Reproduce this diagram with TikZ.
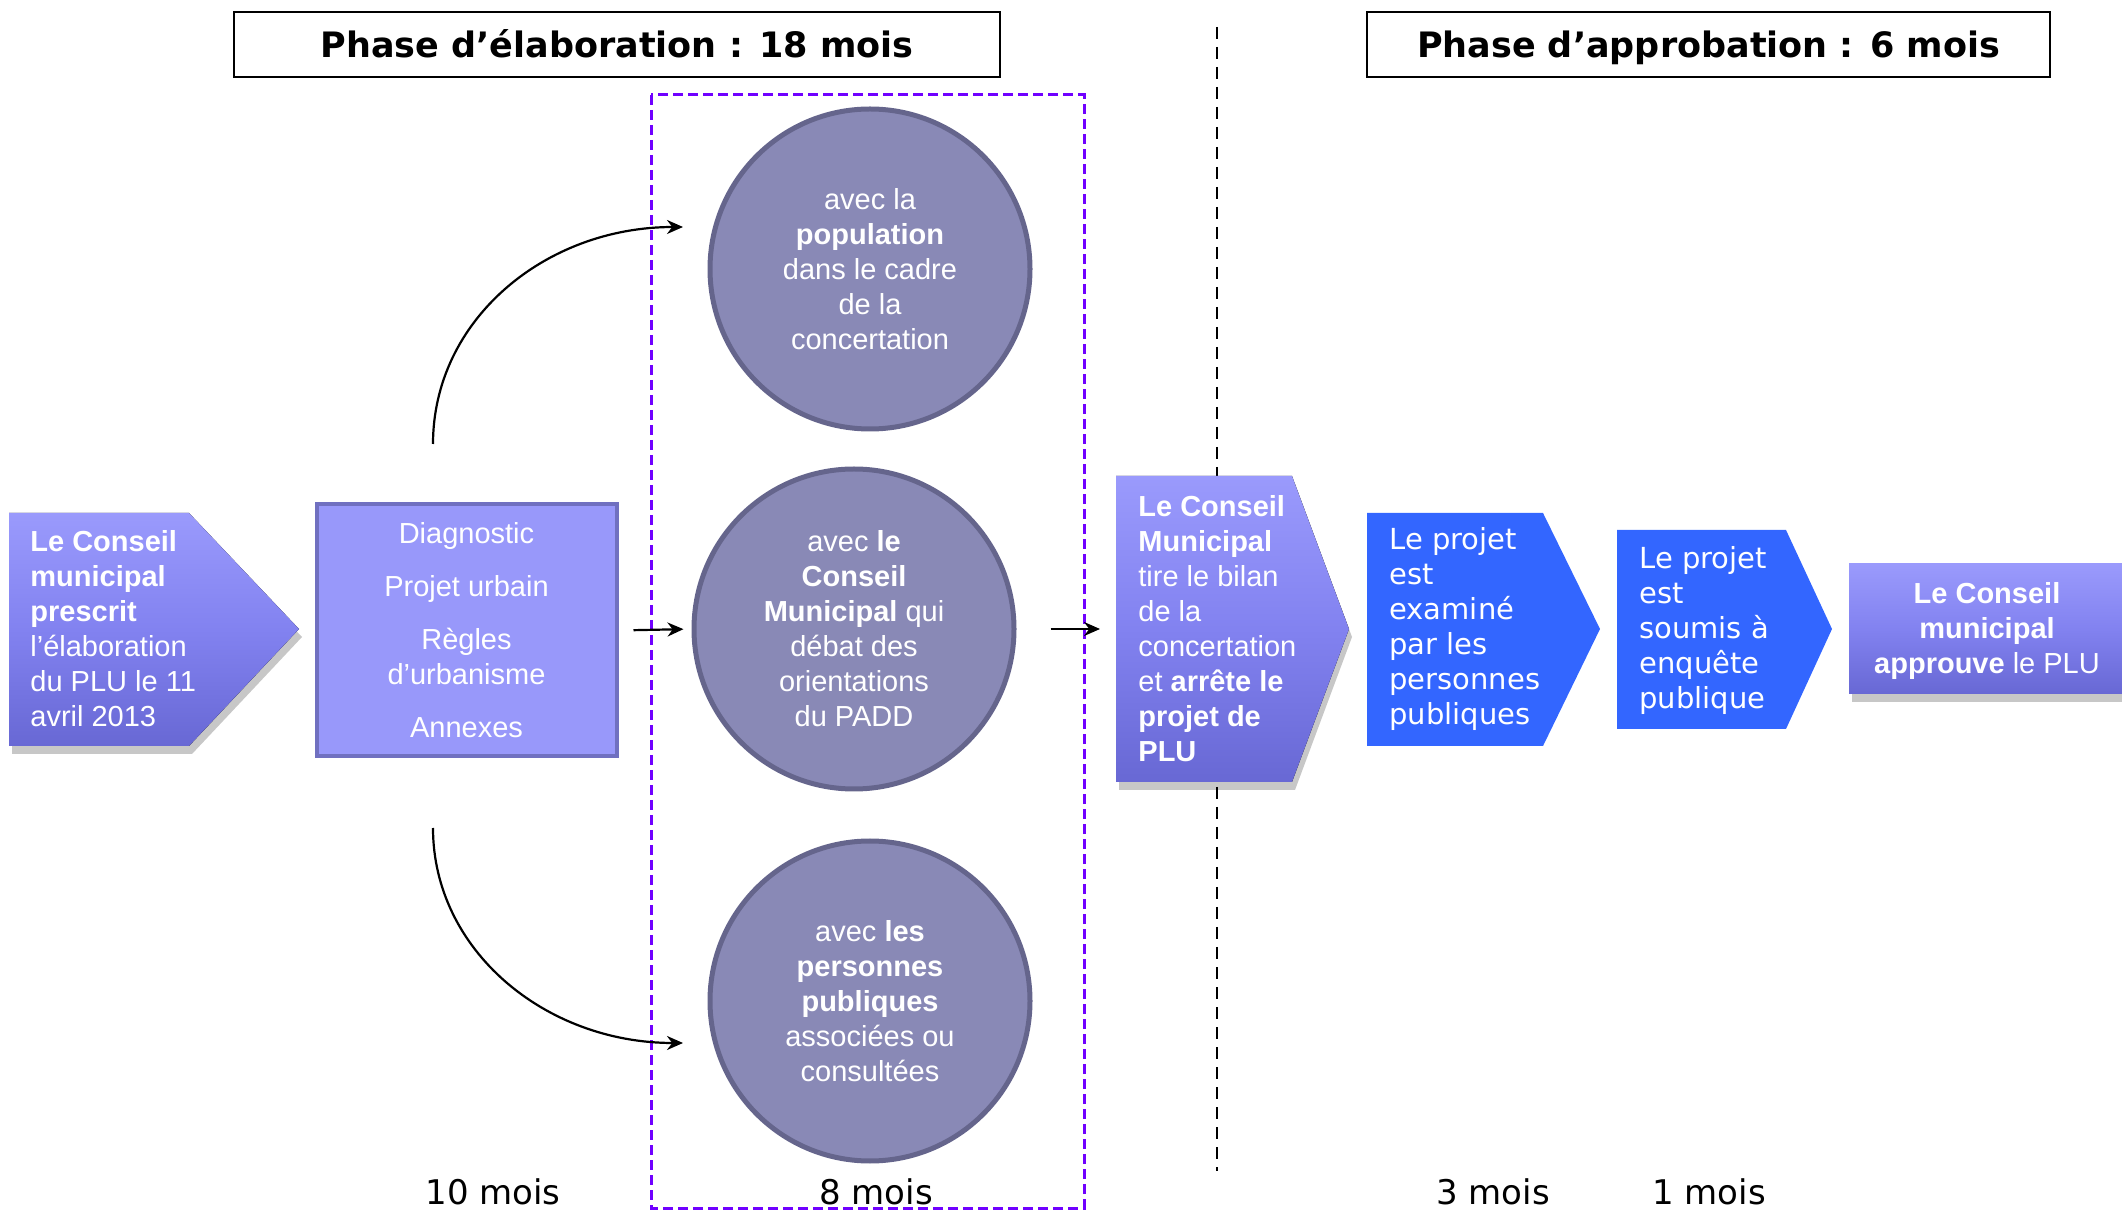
\documentclass[tikz,border=0pt]{standalone}
\usepackage{fontspec}
\setmainfont{Liberation Sans}
\newfontfamily\dvs{DejaVu Sans}
\usetikzlibrary{arrows.meta}
\definecolor{lav}{HTML}{8282F0}
\definecolor{lavtop}{HTML}{9A9AFC}
\definecolor{lavbot}{HTML}{6868D4}
\definecolor{diagfill}{HTML}{9898FA}
\definecolor{diagline}{HTML}{7070C0}
\definecolor{circfill}{HTML}{8989B6}
\definecolor{circline}{HTML}{65658C}
\definecolor{blu}{HTML}{3366FF}
\definecolor{viol}{HTML}{7000FF}
\tikzset{
 header/.style={draw=black, line width=1pt, fill=white, font=\dvs\bfseries\fontsize{17.5}{21}\selectfont, inner sep=0pt, text height=15pt, text depth=2pt},
 circ/.style={circle, draw=circline, line width=2.5pt, fill=circfill, minimum size=160pt, inner sep=0pt, text=white, align=center, font=\fontsize{14.5}{17.5}\selectfont},
 diagbox/.style={draw=diagline, line width=2pt, fill=diagfill, minimum width=150pt, minimum height=126pt, inner sep=0pt, text=white, align=center, font=\fontsize{14.5}{17.5}\selectfont},
 pentshape/.style={top color=lavtop, bottom color=lavbot, middle color=lav},
 shadowshape/.style={fill=black, opacity=0.22},
 blushape/.style={fill=blu},
 ptext/.style={text=white, align=left, inner sep=0pt, font=\fontsize{14.5}{17.5}\selectfont},
 pctext/.style={text=white, align=center, inner sep=0pt, font=\fontsize{14.5}{17.5}\selectfont},
 btext/.style={text=white, align=left, inner sep=0pt, font=\dvs\fontsize{14.5}{17.5}\selectfont},
 mois/.style={font=\dvs\fontsize{17}{20}\selectfont, anchor=base, inner sep=0pt},
 arr/.style={-{Stealth[length=8pt,width=7pt]}, line width=1.1pt},
 vdash/.style={line width=1pt, dash pattern=on 6pt off 4pt},
 violrect/.style={draw=viol, line width=1.5pt, dash pattern=on 5pt off 2.5pt},
}
\begin{document}
\begin{tikzpicture}[x=0.5pt,y=-0.5pt]
\useasboundingbox (0,0) rectangle (2122,1213);
\clip (0,0) rectangle (2122,1213);
% headers
\node[header, minimum width=383pt, minimum height=32.5pt] (h1) at (617,44.5) {Phase d’élaboration : 18 mois};
\node[header, minimum width=341.5pt, minimum height=32.5pt] (h2) at (1708.5,44.5) {Phase d’approbation : 6 mois};
% dashed separators
\coordinate (v1) at (1217,27);
\coordinate (v2) at (1217,1171);
\draw[vdash] (v1) -- (v2);
\draw[violrect] (651,95) rectangle (1084,1208);
% pentagon 1
\fill[shadowshape, shift={(3,8)}] (9,513) -- (189,513) -- (299,629) -- (189,746) -- (9,746) -- cycle;
\fill[pentshape] (9,513) -- (189,513) -- (299,629) -- (189,746) -- (9,746) -- cycle;
\node[ptext, anchor=west] (p1) at (30,629) {\textbf{Le Conseil}\\\textbf{municipal}\\\textbf{prescrit}\\l’élaboration\\du PLU le 11\\avril 2013};
% diag box
\node[diagbox] (diag) at (466.5,630.5) {Diagnostic\\[9pt]Projet urbain\\[9pt]Règles\\d’urbanisme\\[9pt]Annexes};
% circles
\node[circ] (c1) at (870,269) {avec la\\\textbf{population}\\dans le cadre\\de la\\concertation};
\node[circ] (c2) at (854,629) {avec \textbf{le}\\\textbf{Conseil}\\\textbf{Municipal} qui\\débat des\\orientations\\du PADD};
\node[circ] (c3) at (870,1001) {avec \textbf{les}\\\textbf{personnes}\\\textbf{publiques}\\associées ou\\consultées};
% curves
\coordinate (s1) at (433,444);
\coordinate (t1) at (683,227);
\coordinate (s3) at (433,828);
\coordinate (t3) at (683,1043);
\draw[arr] (s1) .. controls (433,320) and (545,227) .. (t1);
\draw[arr] (s3) .. controls (433,950) and (545,1043) .. (t3);
% pentagon 2
\fill[shadowshape, shift={(3,8)}] (1116,476) -- (1292,476) -- (1349,629) -- (1292,782) -- (1116,782) -- cycle;
\fill[pentshape] (1116,476) -- (1292,476) -- (1349,629) -- (1292,782) -- (1116,782) -- cycle;
\node[ptext, anchor=west] (p2) at (1138,629) {\textbf{Le Conseil}\\\textbf{Municipal}\\tire le bilan\\de la\\concertation\\et \textbf{arrête le}\\\textbf{projet de}\\\textbf{PLU}};
% straight arrows
\draw[arr, shorten <=7.5pt, shorten >=4pt] (diag.east) -- (c2.west);
\draw[arr, shorten <=17pt, shorten >=19pt] (c2.east) -- (p2.west);
% blue chevrons
\fill[blushape] (1367,513) -- (1543,513) -- (1600,629) -- (1543,746) -- (1367,746) -- cycle;
\node[btext, anchor=west] (b1) at (1389,629) {Le projet\\est\\examiné\\par les\\personnes\\publiques};
\fill[blushape] (1617,530) -- (1786,530) -- (1832,629) -- (1786,729) -- (1617,729) -- cycle;
\node[btext, anchor=west] (b2) at (1639,631) {Le projet\\est\\soumis à\\enquête\\publique};
% final box
\fill[shadowshape, shift={(3,8)}] (1849,564) rectangle (2135,694);
\fill[pentshape] (1849,564) rectangle (2135,694);
\node[pctext] (p3) at (1987,631) {\textbf{Le Conseil}\\\textbf{municipal}\\\textbf{approuve} le PLU};
% durations
\node[mois] (m1) at (493,1204) {10 mois};
\node[mois] (m2) at (876,1204) {8 mois};
\node[mois] (m3) at (1493,1204) {3 mois};
\node[mois] (m4) at (1709,1204) {1 mois};
\end{tikzpicture}
\end{document}
